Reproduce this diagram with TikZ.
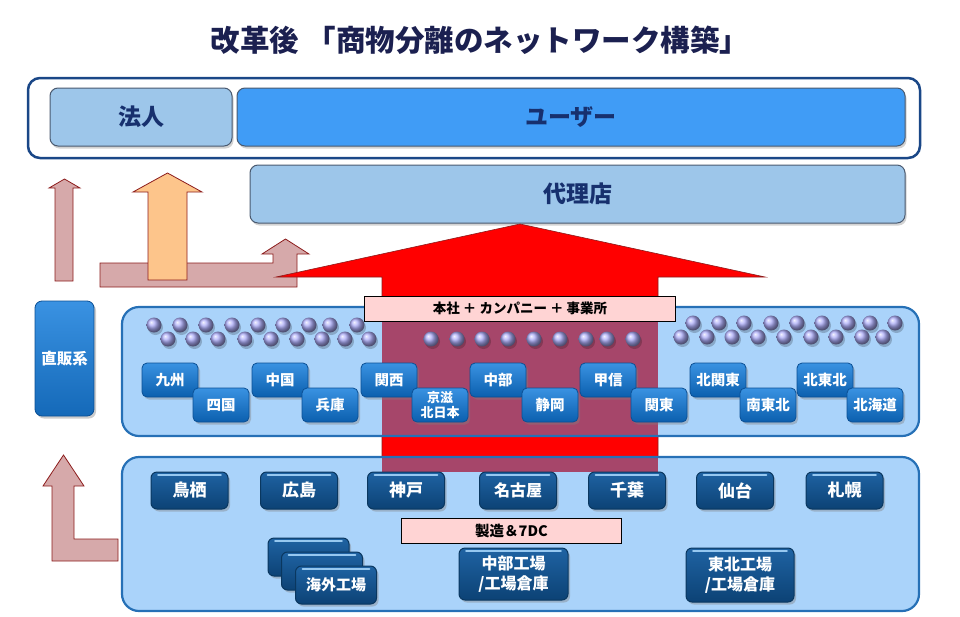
\documentclass[tikz,border=0pt]{standalone}
\usepackage{fontspec}
\setmainfont{Noto Sans CJK JP}
\usepackage{tikz}
\usetikzlibrary{shadows}

\begin{document}
\begin{tikzpicture}[x=1pt,y=-1pt, font=\bfseries,
    tier/.style={draw=tierEdge, line width=1pt, rounded corners=8pt, minimum height=58pt,
        text=tierText, font=\fontsize{23}{27}\selectfont\bfseries,
        drop shadow={shadow xshift=1.5pt, shadow yshift=-2.5pt, opacity=0.35}},
    distbox/.style={draw=distEdge, line width=0.8pt, rounded corners=5pt,
        top color=distTop, bottom color=distBot, text=white,
        minimum width=56pt, minimum height=34pt, inner sep=1pt,
        font=\fontsize{14.5}{16}\selectfont\bfseries, align=center,
        drop shadow={shadow xshift=2pt, shadow yshift=-2.5pt, opacity=0.4}},
    plantbox/.style={draw=plantEdge, line width=1pt, rounded corners=6pt,
        top color=plantTop, bottom color=plantBot, text=white,
        minimum width=77pt, minimum height=37pt, inner sep=1pt,
        font=\fontsize{17}{20}\selectfont\bfseries, align=center,
        path picture={\draw[plantShine, line width=1.6pt, line cap=round]
            ([xshift=7pt,yshift=-3pt]path picture bounding box.north west) --
            ([xshift=-7pt,yshift=-3pt]path picture bounding box.north east);},
        drop shadow={shadow xshift=2pt, shadow yshift=-2.5pt, opacity=0.4}},
    tag/.style={draw=black, line width=0.8pt, fill=tagFill, minimum height=25pt,
        font=\fontsize{13.5}{16}\selectfont\bfseries},
    panel/.style={rounded corners=17pt},
    blockarrow/.style={draw=roseEdge, line width=0.8pt, fill=roseFill}]
    \definecolor{titleColor}{RGB}{27,32,80}
    \definecolor{topEdge}{RGB}{26,71,135}
    \definecolor{tierText}{RGB}{23,48,110}
    \definecolor{tierEdge}{RGB}{74,90,112}
    \definecolor{lightTier}{RGB}{157,198,234}
    \definecolor{userBlue}{RGB}{64,156,246}
    \definecolor{roseFill}{RGB}{214,169,170}
    \definecolor{roseEdge}{RGB}{140,28,28}
    \definecolor{orangeFill}{RGB}{253,197,139}
    \definecolor{panelFill}{RGB}{170,211,250}
    \definecolor{panelEdge}{RGB}{38,112,182}
    \definecolor{overlapColor}{RGB}{166,70,106}
    \definecolor{tagFill}{RGB}{255,212,212}
    \definecolor{distTop}{RGB}{58,146,226}
    \definecolor{distBot}{RGB}{11,95,174}
    \definecolor{distEdge}{RGB}{11,79,148}
    \definecolor{plantTop}{RGB}{31,99,163}
    \definecolor{plantBot}{RGB}{12,66,117}
    \definecolor{plantEdge}{RGB}{10,55,95}
    \definecolor{plantShine}{RGB}{150,200,240}
    \definecolor{beadColor}{RGB}{172,172,248}

    \newcommand{\bead}[2]{
        \fill[black, opacity=0.2] (#1+1.5,#2+2.5) circle (7.5pt);
        \shade[ball color=beadColor] (#1,#2) circle (7.5pt);
    }

    \useasboundingbox (0,0) rectangle (960,616);

    \node[font=\fontsize{29.5}{34}\selectfont\bfseries, text=titleColor] (title) at (480,40) {改革後\hspace{0.25em}「商物分離のネットワーク構築」};

    % customers
    \draw[draw=topEdge, line width=2.5pt, fill=white, rounded corners=12pt] (28,78) rectangle (920,158);
    \node[tier, fill=lightTier, minimum width=182pt] (houjin) at (141,117) {法人};
    \node[tier, fill=userBlue, minimum width=668pt] (user) at (571,117) {ユーザー};
    \node[tier, fill=lightTier, minimum width=655pt] (dairiten) at (577.5,194) {代理店};

    % flows on the left
    \draw[blockarrow] (55,281) -- (55,188) -- (49,188) -- (64.5,179) -- (80,188) -- (73,188) -- (73,281) -- cycle;
    \draw[blockarrow] (100,263) -- (273,263) -- (273,254) -- (262,254) -- (285.5,239) -- (309,254) -- (297,254) -- (297,287) -- (100,287) -- cycle;
    \draw[blockarrow, fill=orangeFill] (148,280) -- (148,192) -- (133,192) -- (167.5,173) -- (202,192) -- (187,192) -- (187,280) -- cycle;
    \draw[blockarrow] (52,561) -- (52,486) -- (43,486) -- (63.5,455) -- (84,486) -- (74,486) -- (74,539) -- (118,539) -- (118,561) -- cycle;

    % main flow
    \draw[draw=roseEdge, line width=0.6pt, fill=red] (382,472) -- (382,277) -- (276,277) -- (520,224) -- (765,277) -- (658,277) -- (658,472) -- cycle;

    % panels
    \fill[panelFill, panel] (122,307) rectangle (919,436);
    \fill[panelFill, panel] (122,457) rectangle (919,611);
    \begin{scope}
        \clip[panel] (122,307) rectangle (919,436);
        \fill[overlapColor] (382,300) rectangle (658,440);
    \end{scope}
    \begin{scope}
        \clip[panel] (122,457) rectangle (919,611);
        \fill[overlapColor] (382,450) rectangle (658,472);
    \end{scope}
    \draw[panelEdge, line width=2.2pt, panel] (122,307) rectangle (919,436);
    \draw[panelEdge, line width=2.2pt, panel] (122,457) rectangle (919,611);

    \node[draw=distEdge, line width=0.8pt, rounded corners=7pt, top color=distTop, bottom color=distBot!80!distTop,
        text=white, minimum width=59pt, minimum height=115pt, font=\fontsize{15.5}{18}\selectfont\bfseries,
        drop shadow={shadow xshift=2pt, shadow yshift=-2.5pt, opacity=0.4}] (direct) at (64.5,358.5) {直販系};

    % beads
    \foreach \x in {154,180,206,232,258,283,309,330,357} {\bead{\x}{325}}
    \foreach \x in {168,193,218,245,271,297,322,345,369} {\bead{\x}{339}}
    \foreach \x in {431,457,482,508,534,560,586,607,633} {\bead{\x}{339}}
    \foreach \x in {693,719,744,771,797,822,848,870,895} {\bead{\x}{323}}
    \foreach \x in {681,707,732,758,784,811,836,862,883} {\bead{\x}{337}}

    % sales offices
    \node[distbox] (kyushu) at (170,380) {九州};
    \node[distbox] (shikoku) at (221,405) {四国};
    \node[distbox] (chugoku) at (280,380) {中国};
    \node[distbox] (hyogo) at (330,405) {兵庫};
    \node[distbox] (kansai) at (389,380) {関西};
    \node[distbox, font=\fontsize{13}{15}\selectfont\bfseries] (keiji) at (440,405) {京滋\\北日本};
    \node[distbox] (chubu) at (498,380) {中部};
    \node[distbox] (shizuoka) at (550,405) {静岡};
    \node[distbox] (koshin) at (608,380) {甲信};
    \node[distbox] (kanto) at (659,405) {関東};
    \node[distbox] (kitakanto) at (718,380) {北関東};
    \node[distbox] (minamitohoku) at (768,405) {南東北};
    \node[distbox] (kitatohoku) at (825,380) {北東北};
    \node[distbox] (hokkaido) at (875,405) {北海道};

    % depots and plants
    \node[plantbox] (tosu) at (189.5,490.5) {鳥栖};
    \node[plantbox] (hiroshima) at (299,490.5) {広島};
    \node[plantbox] (kobe) at (406,490.5) {神戸};
    \node[plantbox, font=\fontsize{16}{19}\selectfont\bfseries] (nagoya) at (518,490.5) {名古屋};
    \node[plantbox] (chiba) at (627,490.5) {千葉};
    \node[plantbox] (sendai) at (735,490.5) {仙台};
    \node[plantbox] (sapporo) at (844.5,490.5) {札幌};

    \node[plantbox, minimum width=81pt, minimum height=38pt] (overseasA) at (308.5,557) {};
    \node[plantbox, minimum width=81pt, minimum height=38pt] (overseasB) at (322,571) {};
    \node[plantbox, minimum width=81pt, minimum height=38pt, font=\fontsize{15}{18}\selectfont\bfseries] (overseas) at (336,585) {海外工場};
    \node[plantbox, minimum width=109pt, minimum height=52pt, font=\fontsize{16}{20}\selectfont\bfseries] (chubuplant) at (513.5,574) {中部工場\\/工場倉庫};
    \node[plantbox, minimum width=108pt, minimum height=54pt, font=\fontsize{16}{20}\selectfont\bfseries] (tohokuplant) at (740,575) {東北工場\\/工場倉庫};

    % labels
    \node[tag, minimum width=311pt] (honsha) at (520,308.5) {本社 ＋ カンパニー ＋ 事業所};
    \node[tag, minimum width=220pt, font=\fontsize{14.5}{17}\selectfont\bfseries] (seizo) at (511.5,530.5) {製造＆7DC};
\end{tikzpicture}
\end{document}
